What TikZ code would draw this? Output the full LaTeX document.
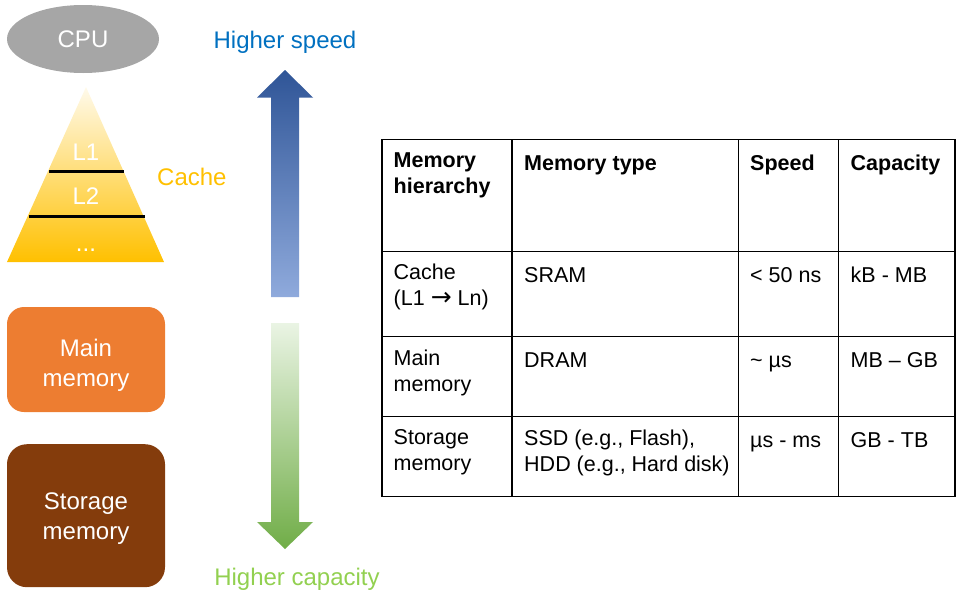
\documentclass[tikz,border=0pt]{standalone}
\usepackage{fontspec}
\setmainfont{Liberation Sans}
\newfontfamily\arrowfont{DejaVu Sans}
\usetikzlibrary{shapes.geometric}
\definecolor{cpugray}{HTML}{A6A6A6}
\definecolor{cacheyellow}{HTML}{FFC000}
\definecolor{mainorange}{HTML}{ED7D31}
\definecolor{storagebrown}{HTML}{843C0C}
\definecolor{speedblue}{HTML}{0070C0}
\definecolor{capgreen}{HTML}{92D050}
\definecolor{arrowdark}{HTML}{2F5597}
\definecolor{arrowmid}{HTML}{4A78C8}
\definecolor{arrowlight}{HTML}{8FAADC}
\definecolor{greenlight}{HTML}{EAF4E4}
\definecolor{greenmid}{HTML}{B2D89A}
\definecolor{greendark}{HTML}{70AD47}
\definecolor{pyrtop}{HTML}{FFFAEB}
\definecolor{pyrmid}{HTML}{FFDC73}
\begin{document}
\begin{tikzpicture}[x=1pt,y=-1pt,
  bigtext/.style={font=\fontsize{24}{30}\selectfont, inner sep=0},
  whitelbl/.style={bigtext, text=white},
  memblock/.style={minimum width=158pt, rounded corners=17pt, inner sep=0},
  cell/.style={font=\fontsize{21.5}{26}\selectfont, anchor=north west, align=left, inner sep=0, execute at begin node=\strut},
  headcell/.style={cell, font=\fontsize{21.5}{26}\selectfont\bfseries},
  gridline/.style={line width=1.4pt},
  levelline/.style={line width=3pt}
]
\useasboundingbox (0,0) rectangle (956,592);

% CPU
\node[ellipse, fill=cpugray, minimum width=152pt, minimum height=68pt, inner sep=0] (cpu) at (83,39) {};
\node[whitelbl, anchor=base] (cputxt) at (83,47.5) {CPU};

% Cache pyramid
\coordinate (apex) at (86,87);
\coordinate (bl) at (7,262);
\coordinate (br) at (164,262);
\shade[top color=pyrtop, middle color=pyrmid, bottom color=cacheyellow] (apex) -- (br) -- (bl) -- cycle;
\coordinate (l1a) at (49,171.7);
\coordinate (l1b) at (124,171.7);
\coordinate (l2a) at (29,216.7);
\coordinate (l2b) at (145,216.7);
\draw[levelline] (l1a) -- (l1b);
\draw[levelline] (l2a) -- (l2b);
\node[whitelbl, anchor=base] (lone) at (86,160) {L1};
\node[whitelbl, anchor=base] (ltwo) at (86,204) {L2};
\node[whitelbl, anchor=base] (ldots) at (86,251) {...};
\node[bigtext, text=cacheyellow, anchor=base west] (cachelbl) at (157,185.5) {Cache};

% Memory blocks
\node[memblock, fill=mainorange, minimum height=105pt] (mainbox) at (86,359.5) {};
\node[whitelbl, align=center, anchor=north] (maintxt) at (86,338.5) {Main\\memory};
\node[memblock, fill=storagebrown, minimum height=143pt, rounded corners=20pt] (storbox) at (86,515.7) {};
\node[whitelbl, align=center, anchor=north] (stortxt) at (86,493) {Storage\\memory};

% Arrows
\shade[top color=arrowdark, middle color=arrowmid, bottom color=arrowlight]
  (271,297) -- (271,97.5) -- (257,97.5) -- (285,70) -- (313,97.5) -- (299,97.5) -- (299,297) -- cycle;
\shade[top color=greenlight, middle color=greenmid, bottom color=greendark]
  (271,323) -- (299,323) -- (299,522) -- (313,522) -- (285,549) -- (257,522) -- (271,522) -- cycle;
\node[bigtext, text=speedblue, anchor=base] (speed) at (285,48.5) {Higher speed};
\node[bigtext, text=capgreen, anchor=base] (capacity) at (297,585.5) {Higher capacity};

% Table grid
\draw[gridline] (382,139.5) rectangle (955,496.5);
\draw[gridline] (512,139.5) -- (512,496.5);
\draw[gridline] (738.5,139.5) -- (738.5,496.5);
\draw[gridline] (838.5,139.5) -- (838.5,496.5);
\draw[gridline] (382,251.5) -- (955,251.5);
\draw[gridline] (382,336.5) -- (955,336.5);
\draw[gridline] (382,416.5) -- (955,416.5);

% Header row
\node[headcell] (h1) at (393.5,152.5) {Memory\\hierarchy};
\node[headcell] (h2) at (524,152.5) {Memory type};
\node[headcell] (h3) at (750,152.5) {Speed};
\node[headcell] (h4) at (850.5,152.5) {Capacity};
% Row cache
\node[cell] (c1) at (393.5,263.8) {Cache\\(L1 {\arrowfont\fontsize{25}{26}\selectfont →} Ln)};
\node[cell] (c2) at (524,263.8) {SRAM};
\node[cell] (c3) at (750,263.8) {< 50 ns};
\node[cell] (c4) at (850.5,263.8) {kB - MB};
% Row main
\node[cell] (m1) at (393.5,349.5) {Main\\memory};
\node[cell] (m2) at (524,349.5) {DRAM};
\node[cell] (m3) at (750,349.5) {\~{} µs};
\node[cell] (m4) at (850.5,349.5) {MB – GB};
% Row storage
\node[cell] (s1) at (393.5,429.5) {Storage\\memory};
\node[cell] (s2) at (524,429.5) {SSD (e.g., Flash),\\HDD (e.g., Hard disk)};
\node[cell] (s3) at (750,429.5) {µs - ms};
\node[cell] (s4) at (850.5,429.5) {GB - TB};
\end{tikzpicture}
\end{document}
